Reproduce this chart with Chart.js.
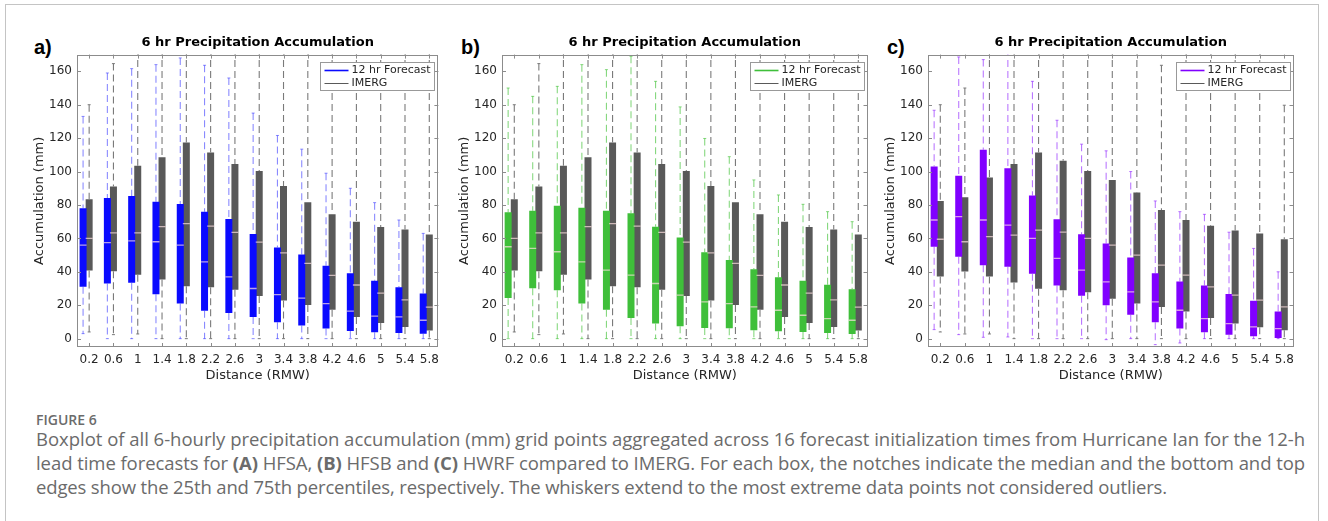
<!DOCTYPE html>
<html>
<head>
<meta charset="utf-8">
<script src="https://cdn.jsdelivr.net/npm/chart.js@4.4.1/dist/chart.umd.min.js"></script>
<style>
  html, body { margin: 0; padding: 0; background: #fff; }
  #page { position: relative; width: 1328px; height: 521px; overflow: hidden; }
  #frame { position: absolute; left: 5px; top: 4px; width: 1312px; height: 600px; border: 1px solid #c4c4c4; }
  canvas { position: absolute; }
  .tag { position: absolute; top: 36px; font: bold 20px "Liberation Sans", Arial, sans-serif; color: #000; }
  .cap { position: absolute; left: 36px; font-family: "Open Sans", sans-serif; color: #6b6b6b; white-space: nowrap; }
  .line { font-size: 18.5px; }
</style>
</head>
<body>
<div id="page">
  <div id="frame"></div>
  <div class="tag" style="left:34px">a)</div>
  <div class="tag" style="left:461px">b)</div>
  <div class="tag" style="left:887px">c)</div>
  <canvas id="chartA" width="413" height="355" style="left:32px;top:30px"></canvas>
  <canvas id="chartB" width="417" height="355" style="left:457px;top:30px"></canvas>
  <canvas id="chartC" width="417" height="355" style="left:883px;top:30px"></canvas>
  <div class="cap" style="top:410px;font-size:14px;font-weight:600;">FIGURE 6</div>
  <div class="cap line" data-w="1269" style="top:426px;">Boxplot of all 6-hourly precipitation accumulation (mm) grid points aggregated across 16 forecast initialization times from Hurricane Ian for the 12-h</div>
  <div class="cap line" data-w="1269" style="top:450px;">lead time forecasts for <b>(A)</b> HFSA, <b>(B)</b> HFSB and <b>(C)</b> HWRF compared to IMERG. For each box, the notches indicate the median and the bottom and top</div>
  <div class="cap line" data-w="1131" style="top:474px;">edges show the 25th and 75th percentiles, respectively. The whiskers extend to the most extreme data points not considered outliers.</div>
</div>
<script>
// ── Axis values ─────────────────────────────────────────
const distances = [0.2, 0.6, 1, 1.4, 1.8, 2.2, 2.6, 3, 3.4, 3.8, 4.2, 4.6, 5, 5.4, 5.8];
const distanceLabels = ['0.2', '0.6', '1', '1.4', '1.8', '2.2', '2.6', '3', '3.4', '3.8', '4.2', '4.6', '5', '5.4', '5.8'];
const accumTicks = [0, 20, 40, 60, 80, 100, 120, 140, 160];

// ── HFSA 12 hr forecast (panel a) ───────────────────────
const hfsaLow  = [3, 0, 0, 0, 0, 0, 0, 0, 0, 0, 0, 0, 0, 0, 0];
const hfsaQ1   = [31, 33, 33.5, 26.5, 21, 16.7, 15.3, 13, 9.8, 7.9, 6, 4.6, 3.9, 3.4, 3];
const hfsaMed  = [56, 57.5, 58.5, 58, 56, 46, 37, 30, 26.3, 24.3, 20.9, 16.5, 13.5, 13, 11];
const hfsaQ3   = [78, 84.2, 85.3, 82, 80.6, 76, 71.6, 62.6, 54.6, 50.4, 43.6, 39.1, 34.7, 30.8, 27];
const hfsaHigh = [133, 159, 161.6, 164, 168, 163.6, 156, 135, 121.6, 113.4, 99, 90, 81.4, 71, 63];

// ── HFSB 12 hr forecast (panel b) ───────────────────────
const hfsbLow  = [0, 0, 0, 0, 0, 0, 0, 0, 0, 0, 0, 0, 0, 0, 0];
const hfsbQ1   = [24.3, 30.2, 28.9, 21, 17.3, 12.3, 9, 7.4, 6.4, 6.2, 5, 4.4, 4, 3.4, 2.8];
const hfsbMed  = [55, 54, 52, 46, 41, 38, 33, 26, 22, 21, 19, 17, 14, 12, 11];
const hfsbQ3   = [75.6, 76.6, 79.6, 78.4, 76.6, 75, 67, 60.5, 51.7, 47, 41.6, 36.8, 34.6, 32.2, 29.6];
const hfsbHigh = [150, 145, 151, 164, 161, 169, 154, 138.7, 119.8, 108.9, 95, 86, 80.4, 76, 70];

// ── HWRF 12 hr forecast (panel c) ───────────────────────
const hwrfLow  = [5.4, 2.4, 0.8, 1, 0, 0, 0, -0.6, 0, -3.6, -2.6, 0, 0, 0, 0];
const hwrfQ1   = [55, 49, 44, 43, 38.8, 31.8, 25.7, 20, 14.3, 9.8, 6, 3.8, 2.4, 1.4, 0.4];
const hwrfMed  = [71, 73, 71, 68, 60, 48, 41, 34, 28, 22, 17, 12, 9, 7, 6];
const hwrfQ3   = [103, 97.5, 113, 102, 85.6, 71.4, 62.5, 57, 48.6, 39.2, 34.2, 31.8, 26.7, 22.7, 16.3];
const hwrfHigh = [136.7, 168.6, 167, 180, 154, 130.7, 116.4, 112.4, 100, 82.4, 76, 74.4, 63.7, 54, 40];

// ── IMERG (panels a, b) ─────────────────────────────────
const imergLow  = [4, 2.4, 2.8, 0, 0, 0, 0, 0, 0, 0, 0, 0, 0, 0, 0];
const imergQ1   = [40.8, 40.4, 38.2, 35.4, 31.4, 30.8, 29.3, 25.5, 22.9, 20.2, 17.3, 13, 9.4, 6.9, 4.9];
const imergMed  = [60, 63.3, 63.3, 67, 68.8, 67.3, 63.6, 57.8, 51.3, 45.1, 37.9, 32.1, 27.2, 23.2, 18.9];
const imergQ3   = [83.4, 91, 103.5, 108.5, 117.4, 111.4, 104.5, 100.3, 91.3, 81.6, 74.4, 70, 66.8, 65.3, 62.3];
const imergHigh = [140, 164.6, 180, 180, 180, 180, 180, 180, 180, 180, 180, 180, 180, 180, 180];

// ── IMERG (panel c) ─────────────────────────────────────
const imergCLow  = [4, 2.8, 2.8, 0, 0, 0, 0, 0, 0, 0, 0, 0, 0, 0, 0];
const imergCQ1   = [37.2, 40.2, 37.2, 33.6, 29.9, 28.9, 27.7, 23.9, 21, 19, 16.3, 12.3, 9, 6.8, 5];
const imergCMed  = [59.5, 58, 61, 62, 65, 63.7, 60, 56, 50, 44, 38, 31, 26, 23, 19];
const imergCQ3   = [82.4, 84.6, 96.5, 104.5, 111.4, 106.5, 100.3, 95, 87.4, 77, 71, 67.5, 64.7, 63, 59.5];
const imergCHigh = [140, 150, 180, 180, 180, 180, 180, 180, 180, 163.6, 180, 180, 180, 180, 139.7];

// stretch caption lines to the widths they have in the figure
document.querySelectorAll('.line').forEach(el => {
  const natural = el.getBoundingClientRect().width;
  const chars = el.textContent.length;
  el.style.letterSpacing = ((+el.dataset.w - natural) / chars) + 'px';
});

// ── Global Chart.js defaults ────────────────────────────
Chart.defaults.font.family = "'DejaVu Sans', sans-serif";
Chart.defaults.color = '#262626';
Chart.defaults.animation = false;

const GRAY_BOX = '#595959';
const GRAY_WHISKER = '#7a7a7a';

// vertical segments separated by gaps, one per distance
function segments(offset, from, to) {
  const pts = [];
  distances.forEach((d, i) => {
    pts.push({ x: d + offset, y: from[i] }, { x: d + offset, y: to[i] }, { x: d + offset, y: null });
  });
  return pts;
}

function pointsAt(offset, vals) {
  return distances.map((d, i) => ({ x: d + offset, y: vals[i] }));
}

function boxDatasets(label, offset, s, boxColor, whiskerColor) {
  return [
    { // whiskers
      data: segments(offset, s.high, s.q3).concat(segments(offset, s.q1, s.low)),
      borderColor: whiskerColor, borderWidth: 1.1, borderDash: [7, 4],
      pointRadius: 0, spanGaps: false, clip: 0,
    },
    { // whisker end marks
      data: pointsAt(offset, s.high).concat(pointsAt(offset, s.low)),
      showLine: false, pointStyle: 'line', pointRadius: 1.5,
      borderColor: whiskerColor, borderWidth: 1, clip: 0,
    },
    { // box q1..q3
      label, legend: true,
      data: segments(offset, s.q1, s.q3),
      borderColor: boxColor, borderWidth: 7, borderCapStyle: 'butt',
      pointRadius: 0, spanGaps: false, clip: 0,
    },
    { // median notch, drawn above the box
      data: pointsAt(offset, s.med), order: -1,
      showLine: false, pointStyle: 'line', pointRadius: 3.5,
      borderColor: 'rgba(255,225,225,0.7)', borderWidth: 1.3, clip: 0,
    },
  ];
}

// ── MATLAB style box, inward ticks and legend ───────────
const matlabAxes = {
  id: 'matlabAxes',
  afterDatasetsDraw(chart) {
    const { ctx, chartArea: a, scales: { x, y } } = chart;
    ctx.save();
    ctx.strokeStyle = '#8c8c8c';
    ctx.lineWidth = 1;
    ctx.beginPath();
    distances.forEach(v => {
      const px = Math.round(x.getPixelForValue(v)) + 0.5;
      ctx.moveTo(px, a.bottom); ctx.lineTo(px, a.bottom - 4);
      ctx.moveTo(px, a.top); ctx.lineTo(px, a.top + 4);
    });
    accumTicks.forEach(v => {
      const py = Math.round(y.getPixelForValue(v)) + 0.5;
      ctx.moveTo(a.left, py); ctx.lineTo(a.left + 4, py);
      ctx.moveTo(a.right, py); ctx.lineTo(a.right - 4, py);
    });
    ctx.stroke();
    ctx.strokeRect(Math.round(a.left) + 0.5, Math.round(a.top) + 0.5,
      Math.round(a.width) - 1, Math.round(a.height) - 1);

    // legend
    const items = chart.data.datasets.filter(d => d.legend);
    const lw = 114, lh = 28;
    const lx = Math.round(a.right - 4 - lw) + 0.5, ly = Math.round(a.top + 7) + 0.5;
    ctx.fillStyle = '#fff';
    ctx.fillRect(lx, ly, lw, lh);
    ctx.strokeStyle = '#999';
    ctx.strokeRect(lx, ly, lw, lh);
    ctx.font = "11px 'DejaVu Sans', sans-serif";
    ctx.textBaseline = 'middle';
    items.forEach((d, i) => {
      const yy = ly + 8 + i * 13;
      ctx.strokeStyle = d.borderColor;
      ctx.lineWidth = i === 0 ? 1.6 : 1;
      ctx.beginPath();
      ctx.moveTo(lx + 4, yy); ctx.lineTo(lx + 28, yy);
      ctx.stroke();
      ctx.fillStyle = '#262626';
      ctx.fillText(d.label, lx + 31, yy);
    });
    ctx.restore();
  },
};

function createBoxChart(canvasId, fc, obs, boxColor, whiskerColor) {
  return new Chart(document.getElementById(canvasId), {
    type: 'line',
    data: {
      datasets: [
        ...boxDatasets('12 hr Forecast', -0.1, fc, boxColor, whiskerColor),
        ...boxDatasets('IMERG', 0, obs, GRAY_BOX, GRAY_WHISKER),
      ],
    },
    options: {
      responsive: false,
      layout: { padding: { left: 0, right: 2, top: 5, bottom: 0 } },
      plugins: {
        legend: { display: false },
        tooltip: { enabled: false },
        title: {
          display: true, fullSize: false,
          text: '6 hr Precipitation Accumulation',
          color: '#000',
          font: { size: 13, weight: 'bold' },
          padding: { top: 0, bottom: 4 },
        },
      },
      scales: {
        x: {
          type: 'linear', min: 0, max: 5.95,
          grid: { display: false, drawTicks: false },
          border: { display: false },
          afterBuildTicks: s => { s.ticks = distances.map(v => ({ value: v })); },
          afterFit: s => { s.height = 38; },
          ticks: {
            autoSkip: false, maxRotation: 0, padding: 6,
            font: { size: 12 },
            callback: (v, i) => distanceLabels[i],
          },
          title: { display: true, text: 'Distance (RMW)', font: { size: 13 }, padding: { top: 0, bottom: 2 } },
        },
        y: {
          min: -5, max: 170,
          grid: { display: false, drawTicks: false },
          border: { display: false },
          afterBuildTicks: s => { s.ticks = accumTicks.map(v => ({ value: v })); },
          afterFit: s => { s.width = 45; },
          ticks: { padding: 5, font: { size: 12 } },
          title: { display: true, text: 'Accumulation (mm)', font: { size: 13 }, padding: 0 },
        },
      },
    },
    plugins: [matlabAxes],
  });
}

const hfsa = { low: hfsaLow, q1: hfsaQ1, med: hfsaMed, q3: hfsaQ3, high: hfsaHigh };
const hfsb = { low: hfsbLow, q1: hfsbQ1, med: hfsbMed, q3: hfsbQ3, high: hfsbHigh };
const hwrf = { low: hwrfLow, q1: hwrfQ1, med: hwrfMed, q3: hwrfQ3, high: hwrfHigh };
const imerg = { low: imergLow, q1: imergQ1, med: imergMed, q3: imergQ3, high: imergHigh };
const imergC = { low: imergCLow, q1: imergCQ1, med: imergCMed, q3: imergCQ3, high: imergCHigh };

createBoxChart('chartA', hfsa, imerg, '#0a0aff', 'rgba(60,60,255,0.6)');
createBoxChart('chartB', hfsb, imerg, '#3fbf3a', 'rgba(70,195,60,0.65)');
createBoxChart('chartC', hwrf, imergC, '#8000ff', 'rgba(140,30,255,0.6)');
</script>
</body>
</html>
